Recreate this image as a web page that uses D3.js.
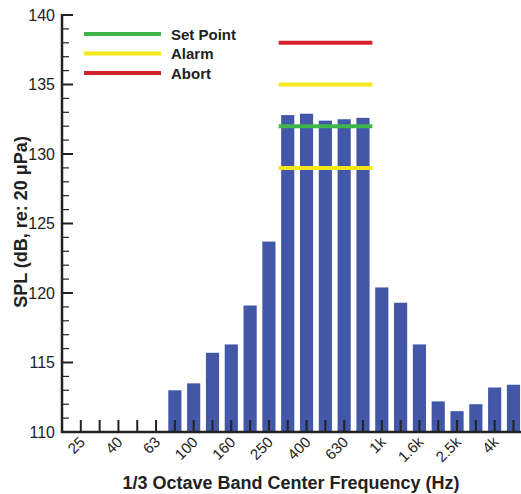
<!DOCTYPE html>
<html>
<head>
<meta charset="utf-8">
<script src="https://cdn.jsdelivr.net/npm/d3@7"></script>
<style>
	body { margin: 0; background: #fff; }
	text { font-family: "Liberation Sans", Arial, sans-serif; fill: #222; }
</style>
</head>
<body>
<div id="chart"></div>
<script>
// 1/3 octave bands and measured levels (dB)
var bands = ["25", "31.5", "40", "50", "63", "80", "100", "125", "160", "200", "250", "315",
	"400", "500", "630", "800", "1k", "1.25k", "1.6k", "2k", "2.5k", "3.15k", "4k", "5k"];
var spl = [null, null, null, null, null, 113.0, 113.5, 115.7, 116.3, 119.1, 123.7, 132.8,
	132.9, 132.4, 132.5, 132.6, 120.4, 119.3, 116.3, 112.2, 111.5, 112.0, 113.2, 113.4];
var labelBands = ["25", "40", "63", "100", "160", "250", "400", "630", "1k", "1.6k", "2.5k", "4k"];

// limit levels drawn across the 315-800 Hz bands
var limitNames = ["Set Point", "Alarm", "Abort"];
var limitColors = ["#3fb54b", "#f4e81c", "#d2212a"];
var limitLevels = [[132], [129, 135], [138]];
var limitSpan = ["315", "800"];

var yTicks = [110, 115, 120, 125, 130, 135, 140];

var width = 521, height = 494;
var svg = d3.select("#chart").append("svg")
	.attr("width", width)
	.attr("height", height);

var x = d3.scaleLinear().domain([-1, 23.4]).range([62, 521]);
var y = d3.scaleLinear().domain([110, 140]).range([432, 15]);
var barHalf = 0.35;

// bars
svg.append("g").selectAll("rect")
	.data(bands.map(function(b, i) { return {band: b, i: i, v: spl[i]}; }).filter(function(d) { return d.v != null; }))
	.enter().append("rect")
	.attr("x", function(d) { return x(d.i - barHalf); })
	.attr("width", function(d) { return x(d.i + barHalf) - x(d.i - barHalf); })
	.attr("y", function(d) { return y(d.v); })
	.attr("height", function(d) { return y(110) - y(d.v); })
	.attr("fill", "#4257a7");

// limit lines
var i0 = bands.indexOf(limitSpan[0]), i1 = bands.indexOf(limitSpan[1]);
limitLevels.forEach(function(levels, k) {
	levels.forEach(function(lv) {
		svg.append("line")
			.attr("x1", x(i0 - 0.48))
			.attr("x2", x(i1 + 0.5))
			.attr("y1", y(lv))
			.attr("y2", y(lv))
			.attr("stroke", limitColors[k])
			.attr("stroke-width", 4);
	});
});

// y axis
var yAxis = svg.append("g");
yAxis.append("line")
	.attr("x1", 62).attr("x2", 62)
	.attr("y1", y(140) - 1).attr("y2", y(110) + 1)
	.attr("stroke", "#222").attr("stroke-width", 2.5);
d3.range(110, 141).forEach(function(v) {
	var major = v % 5 == 0;
	yAxis.append("line")
		.attr("x1", 62).attr("x2", major ? 73 : 69)
		.attr("y1", y(v)).attr("y2", y(v))
		.attr("stroke", "#222").attr("stroke-width", major ? 2 : 1.2);
});
yAxis.selectAll("text.ytick")
	.data(yTicks)
	.enter().append("text")
	.attr("class", "ytick")
	.attr("x", 55)
	.attr("y", function(d) { return y(d) + 5.5; })
	.attr("text-anchor", "end")
	.style("font-size", "16px")
	.text(function(d) { return d; });

// x axis
var xAxis = svg.append("g");
xAxis.append("line")
	.attr("x1", 61).attr("x2", 521)
	.attr("y1", y(110)).attr("y2", y(110))
	.attr("stroke", "#222").attr("stroke-width", 2.5);
bands.forEach(function(b, i) {
	xAxis.append("line")
		.attr("x1", x(i)).attr("x2", x(i))
		.attr("y1", y(110)).attr("y2", y(110) - 12)
		.attr("stroke", "#222").attr("stroke-width", 2);
});
xAxis.selectAll("text.xtick")
	.data(labelBands)
	.enter().append("text")
	.attr("class", "xtick")
	.attr("text-anchor", "end")
	.attr("transform", function(d) {
		return "translate(" + (x(bands.indexOf(d)) + 5) + "," + 443 + ") rotate(-45)";
	})
	.style("font-size", "15px")
	.text(function(d) { return d; });

// axis titles
svg.append("text")
	.attr("x", 291)
	.attr("y", 489)
	.attr("text-anchor", "middle")
	.style("font-size", "18px")
	.style("font-weight", "bold")
	.text("1/3 Octave Band Center Frequency (Hz)");

svg.append("text")
	.attr("transform", "translate(27,222) rotate(-90)")
	.attr("text-anchor", "middle")
	.style("font-size", "18px")
	.style("font-weight", "bold")
	.text("SPL (dB, re: 20 μPa)");

// legend
var legend = svg.append("g");
limitNames.forEach(function(name, k) {
	var ly = 34 + k * 19.5;
	legend.append("line")
		.attr("x1", 84).attr("x2", 161)
		.attr("y1", ly).attr("y2", ly)
		.attr("stroke", limitColors[k])
		.attr("stroke-width", 4);
	legend.append("text")
		.attr("x", 171)
		.attr("y", ly + 5.5)
		.style("font-size", "15px")
		.style("font-weight", "bold")
		.text(name);
});
</script>
</body>
</html>
